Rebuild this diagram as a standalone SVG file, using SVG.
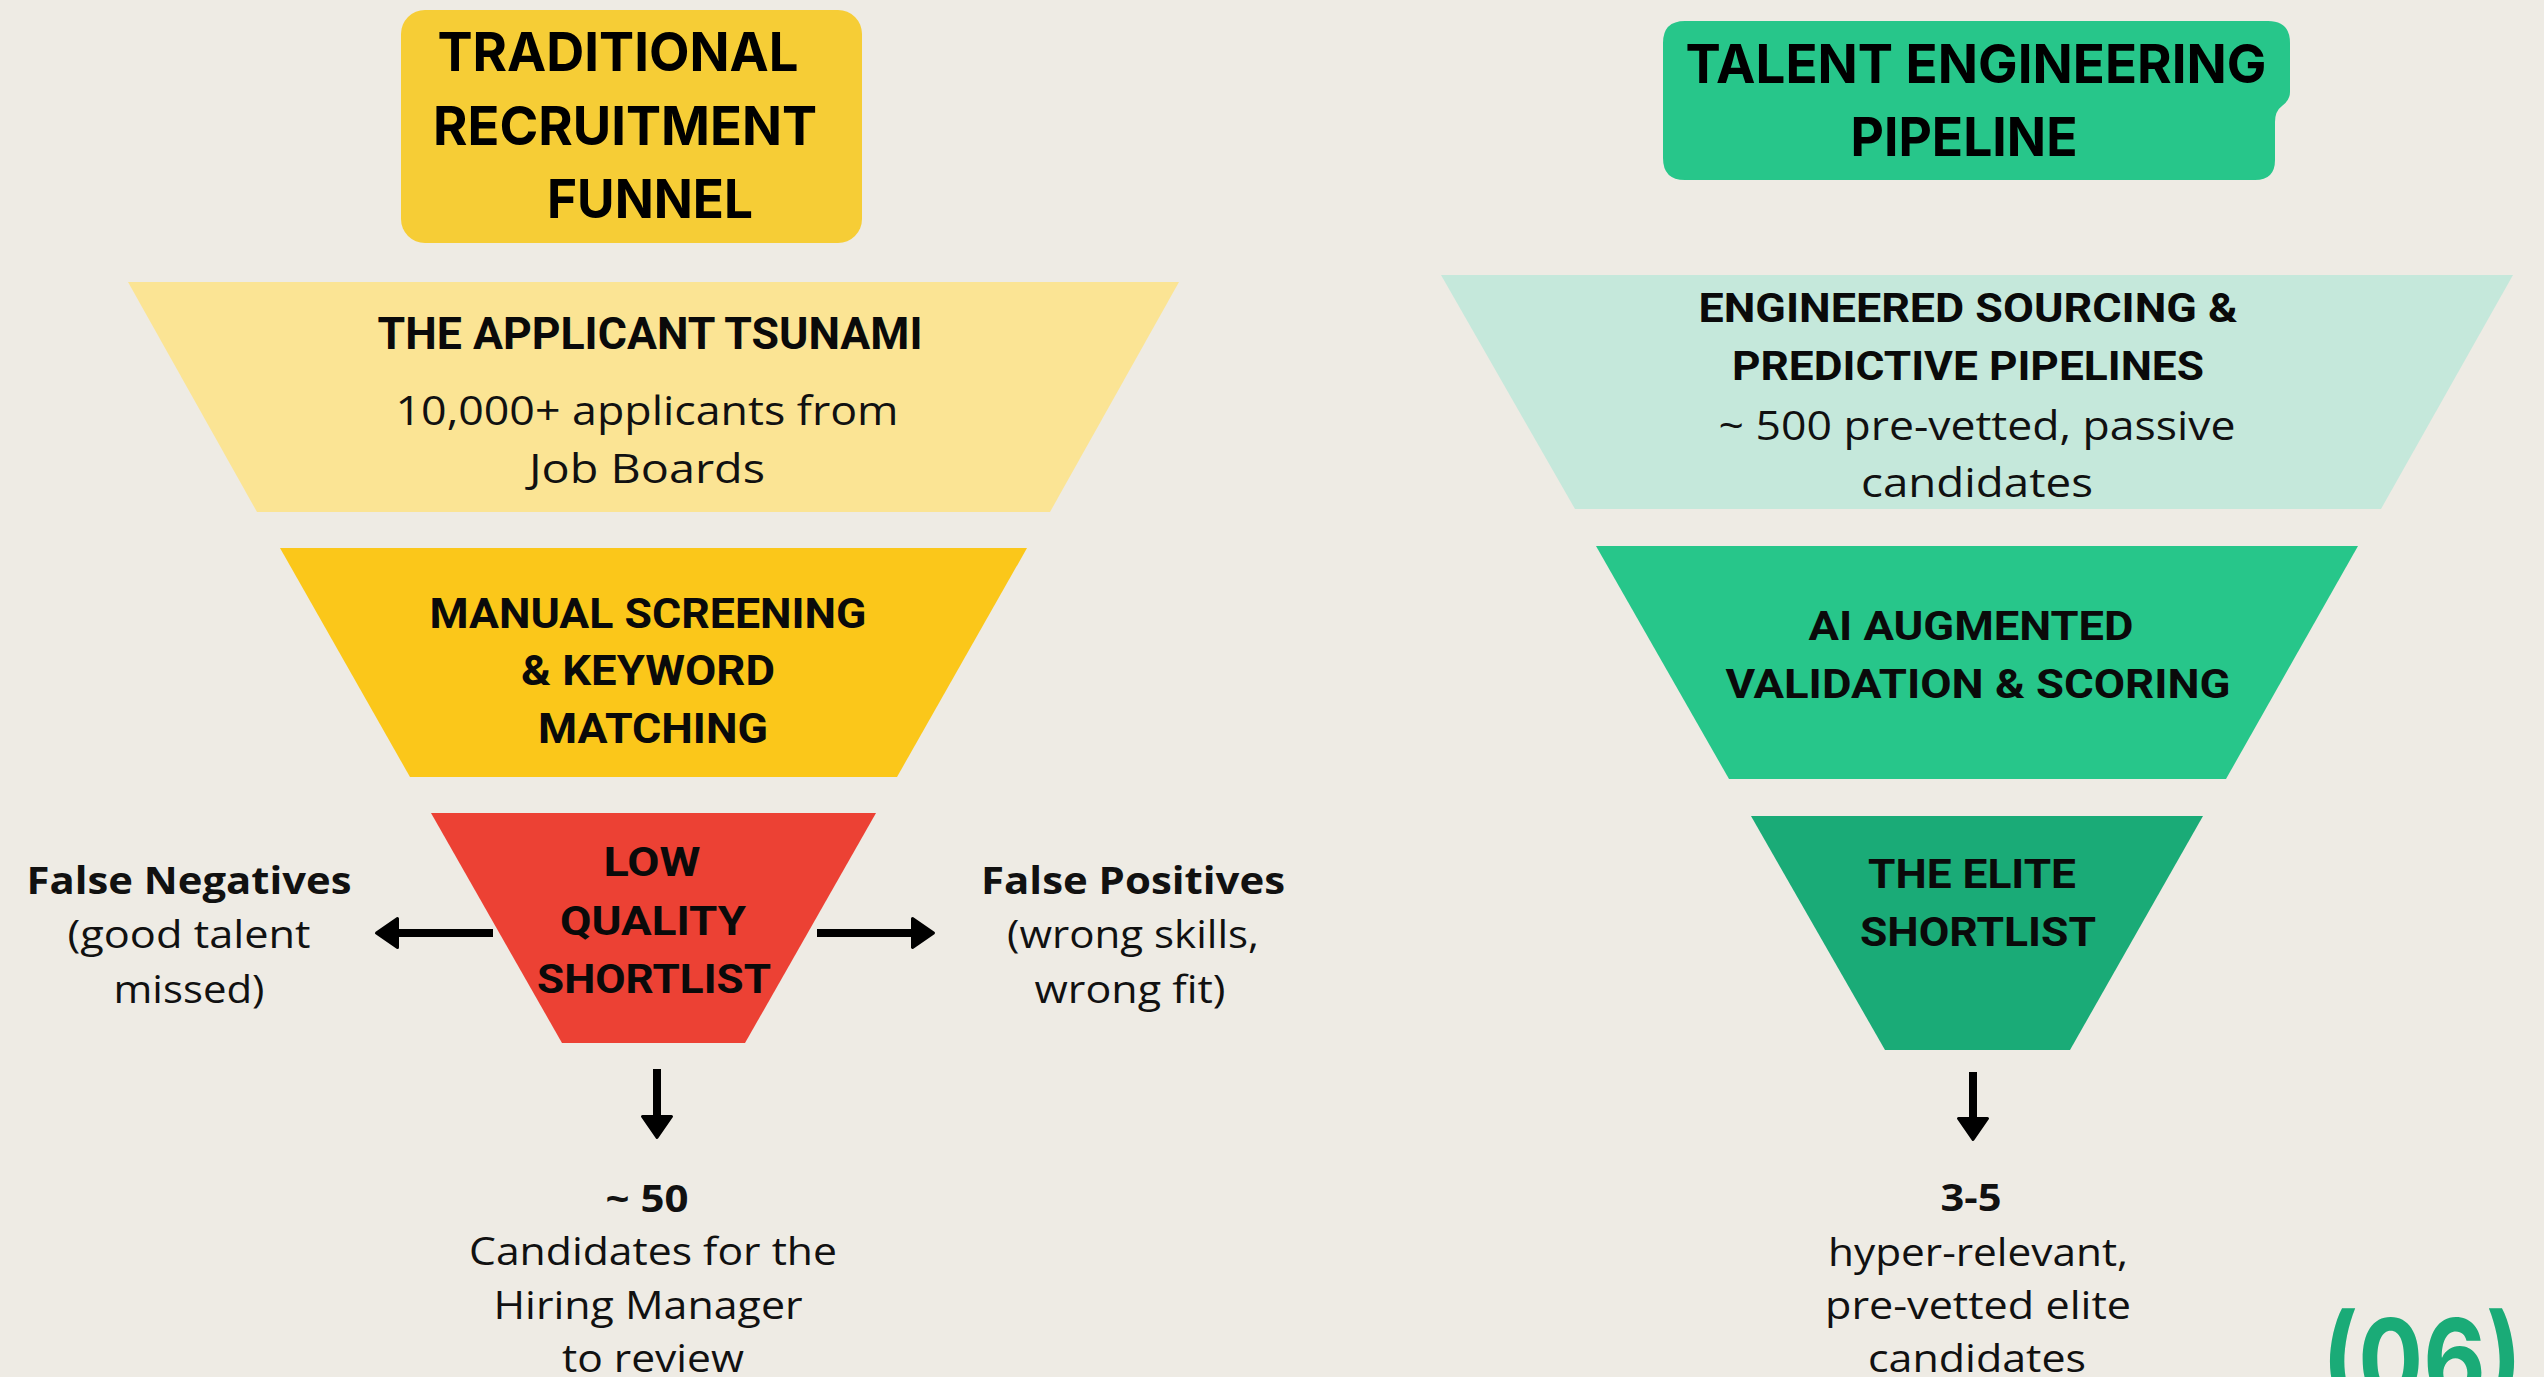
<svg xmlns="http://www.w3.org/2000/svg" width="2544" height="1377" viewBox="0 0 2544 1377">
<style>
.h{font-family:"Inter","Liberation Sans",sans-serif;font-weight:700;fill:#000;text-anchor:middle}
.c{font-family:"Roboto","Liberation Sans",sans-serif;font-weight:700;fill:#0a0a0a;text-anchor:middle}
.b{font-family:"Open Sans","Noto Sans",sans-serif;font-weight:400;fill:#111;text-anchor:middle}
.bb{font-family:"Open Sans","Noto Sans",sans-serif;font-weight:700;fill:#111;text-anchor:middle}
.conn{stroke:#000;stroke-width:8;fill:none;marker-end:url(#ah)}
</style>
<defs>
<marker id="ah" markerUnits="userSpaceOnUse" markerWidth="40" markerHeight="40" refX="0" refY="0" viewBox="-2 -20 30 40" orient="auto" overflow="visible">
<path d="M1.5,-14.5 L22.5,0 L1.5,14.5 Z" fill="#000" stroke="#000" stroke-width="3" stroke-linejoin="round"/>
</marker>
</defs>
<rect width="2544" height="1377" fill="#EEEBE4"/>

<g id="title-traditional">
<rect x="401" y="10" width="461" height="233" rx="24" fill="#F6CD36"/>
<text class="h" font-size="54" x="618" y="71" textLength="361" lengthAdjust="spacingAndGlyphs">TRADITIONAL</text>
<text class="h" font-size="54" x="625" y="145" textLength="384" lengthAdjust="spacingAndGlyphs">RECRUITMENT</text>
<text class="h" font-size="54" x="650" y="218" textLength="206" lengthAdjust="spacingAndGlyphs">FUNNEL</text>
</g>

<g id="title-talent">
<path d="M1685,21 H2268 Q2290,21 2290,43 V92 Q2290,100 2282,106 Q2275,111 2275,122 V160 Q2275,180 2255,180 H1685 Q1663,180 1663,158 V43 Q1663,21 1685,21 Z" fill="#27C68A"/>
<text class="h" font-size="54" x="1976" y="83" textLength="581" lengthAdjust="spacingAndGlyphs">TALENT ENGINEERING</text>
<text class="h" font-size="54" x="1964" y="156" textLength="227" lengthAdjust="spacingAndGlyphs">PIPELINE</text>
</g>

<g id="applicant-tsunami">
<polygon points="128,282 1179,282 1050,512 257,512" fill="#FBE494"/>
<text class="c" font-size="44" x="650" y="349" textLength="545" lengthAdjust="spacingAndGlyphs">THE APPLICANT TSUNAMI</text>
<text class="b" font-size="40" x="647" y="425" textLength="503" lengthAdjust="spacingAndGlyphs">10,000+ applicants from</text>
<text class="b" font-size="40" x="647" y="483" textLength="236" lengthAdjust="spacingAndGlyphs">Job Boards</text>
</g>

<g id="manual-screening">
<polygon points="280,548 1027,548 897,777 410,777" fill="#FBC71A"/>
<text class="c" font-size="42" x="648" y="628" textLength="437" lengthAdjust="spacingAndGlyphs">MANUAL SCREENING</text>
<text class="c" font-size="42" x="648" y="685" textLength="254" lengthAdjust="spacingAndGlyphs">&amp; KEYWORD</text>
<text class="c" font-size="42" x="653" y="743" textLength="230" lengthAdjust="spacingAndGlyphs">MATCHING</text>
</g>

<g id="low-quality-shortlist">
<polygon points="431,813 876,813 745,1043 562,1043" fill="#EC4134"/>
<text class="c" font-size="41" x="652" y="876" textLength="97" lengthAdjust="spacingAndGlyphs">LOW</text>
<text class="c" font-size="41" x="653" y="935" textLength="186" lengthAdjust="spacingAndGlyphs">QUALITY</text>
<text class="c" font-size="41" x="654" y="993" textLength="234" lengthAdjust="spacingAndGlyphs">SHORTLIST</text>
</g>

<g id="false-negatives">
<text class="bb" font-size="38" x="189" y="894" textLength="325" lengthAdjust="spacingAndGlyphs">False Negatives</text>
<text class="b" font-size="38" x="189" y="948" textLength="243" lengthAdjust="spacingAndGlyphs">(good talent</text>
<text class="b" font-size="38" x="189" y="1003" textLength="151" lengthAdjust="spacingAndGlyphs">missed)</text>
</g>

<g id="false-positives">
<text class="bb" font-size="38" x="1133" y="894" textLength="304" lengthAdjust="spacingAndGlyphs">False Positives</text>
<text class="b" font-size="38" x="1133" y="948" textLength="252" lengthAdjust="spacingAndGlyphs">(wrong skills,</text>
<text class="b" font-size="38" x="1130" y="1003" textLength="191" lengthAdjust="spacingAndGlyphs">wrong fit)</text>
</g>

<g id="result-traditional">
<text class="bb" font-size="38" x="647" y="1212" textLength="83" lengthAdjust="spacingAndGlyphs">~ 50</text>
<text class="b" font-size="38" x="653" y="1265" textLength="368" lengthAdjust="spacingAndGlyphs">Candidates for the</text>
<text class="b" font-size="38" x="648" y="1319" textLength="309" lengthAdjust="spacingAndGlyphs">Hiring Manager</text>
<text class="b" font-size="38" x="653" y="1372" textLength="182" lengthAdjust="spacingAndGlyphs">to review</text>
</g>

<g id="engineered-sourcing">
<polygon points="1441,275 2513,275 2381,509 1575,509" fill="#C5E8DB"/>
<text class="c" font-size="41" x="1968" y="322" textLength="539" lengthAdjust="spacingAndGlyphs">ENGINEERED SOURCING &amp;</text>
<text class="c" font-size="41" x="1968" y="380" textLength="472" lengthAdjust="spacingAndGlyphs">PREDICTIVE PIPELINES</text>
<text class="b" font-size="40" x="1977" y="440" textLength="517" lengthAdjust="spacingAndGlyphs">~ 500 pre-vetted, passive</text>
<text class="b" font-size="40" x="1977" y="497" textLength="232" lengthAdjust="spacingAndGlyphs">candidates</text>
</g>

<g id="ai-validation">
<polygon points="1596,546 2358,546 2226,779 1729,779" fill="#27C68A"/>
<text class="c" font-size="41" x="1971" y="640" textLength="325" lengthAdjust="spacingAndGlyphs">AI AUGMENTED</text>
<text class="c" font-size="41" x="1978" y="698" textLength="505" lengthAdjust="spacingAndGlyphs">VALIDATION &amp; SCORING</text>
</g>

<g id="elite-shortlist">
<polygon points="1751,816 2203,816 2070,1050 1885,1050" fill="#1AAB77"/>
<text class="c" font-size="41" x="1972" y="888" textLength="208" lengthAdjust="spacingAndGlyphs">THE ELITE</text>
<text class="c" font-size="41" x="1978" y="946" textLength="236" lengthAdjust="spacingAndGlyphs">SHORTLIST</text>
</g>

<g id="result-talent">
<text class="bb" font-size="38" x="1971" y="1211" textLength="61" lengthAdjust="spacingAndGlyphs">3-5</text>
<text class="b" font-size="38" x="1978" y="1266" textLength="300" lengthAdjust="spacingAndGlyphs">hyper-relevant,</text>
<text class="b" font-size="38" x="1978" y="1319" textLength="306" lengthAdjust="spacingAndGlyphs">pre-vetted elite</text>
<text class="b" font-size="38" x="1977" y="1372" textLength="218" lengthAdjust="spacingAndGlyphs">candidates</text>
</g>

<g id="page-number">
<text class="h" font-size="112" x="2422" y="1400" fill="#1AAB77" style="fill:#1AAB77" textLength="200" lengthAdjust="spacingAndGlyphs">(06)</text>
</g>

<g id="connectors">
<line class="conn" x1="493" y1="933" x2="399" y2="933"/>
<line class="conn" x1="817" y1="933" x2="911" y2="933"/>
<line class="conn" x1="657" y1="1069" x2="657" y2="1115"/>
<line class="conn" x1="1973" y1="1072" x2="1973" y2="1117"/>
</g>
</svg>
